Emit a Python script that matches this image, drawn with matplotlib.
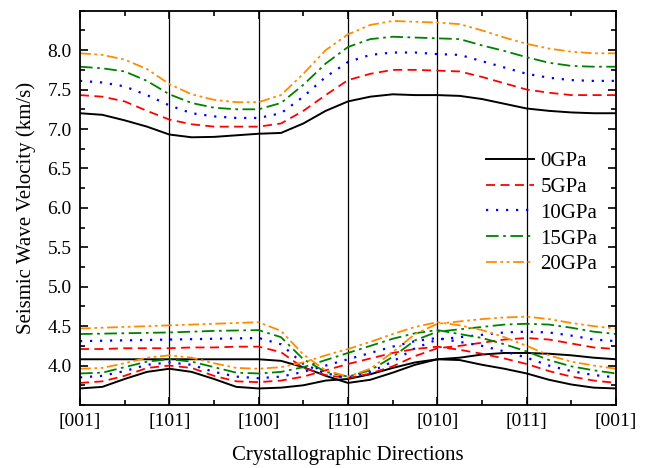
import numpy as np
import matplotlib
matplotlib.use("Agg")
import matplotlib.pyplot as plt
from matplotlib.ticker import MultipleLocator, FormatStrFormatter

plt.rcParams['font.family'] = ['Liberation Serif', 'DejaVu Serif']

# path positions (quarter steps along the direction path)
x = np.arange(25) * 0.25
directions = ['[001]', '[101]', '[100]', '[110]', '[010]', '[011]', '[001]']
pressures = ['0GPa', '5GPa', '10GPa', '15GPa', '20GPa']

# P wave
vp = {
    '0GPa':  [7.20, 7.18, 7.11, 7.03, 6.93, 6.895, 6.90, 6.92, 6.94, 6.95, 7.07, 7.23, 7.35,
              7.41, 7.44, 7.43, 7.43, 7.42, 7.38, 7.32, 7.26, 7.23, 7.21, 7.20, 7.20],
    '5GPa':  [7.43, 7.41, 7.35, 7.23, 7.12, 7.06, 7.03, 7.03, 7.03, 7.07, 7.23, 7.43, 7.62,
              7.70, 7.75, 7.75, 7.74, 7.73, 7.66, 7.58, 7.50, 7.46, 7.43, 7.43, 7.43],
    '10GPa': [7.61, 7.59, 7.54, 7.43, 7.30, 7.20, 7.16, 7.14, 7.14, 7.20, 7.41, 7.66, 7.85,
              7.94, 7.97, 7.97, 7.95, 7.94, 7.86, 7.78, 7.70, 7.65, 7.62, 7.61, 7.61],
    '15GPa': [7.79, 7.77, 7.73, 7.61, 7.44, 7.33, 7.27, 7.25, 7.25, 7.33, 7.56, 7.83, 8.04,
              8.14, 8.17, 8.16, 8.15, 8.14, 8.06, 7.99, 7.91, 7.84, 7.80, 7.79, 7.79],
    '20GPa': [7.96, 7.94, 7.88, 7.76, 7.57, 7.44, 7.37, 7.34, 7.34, 7.43, 7.70, 8.00, 8.20,
              8.32, 8.37, 8.36, 8.35, 8.33, 8.25, 8.16, 8.08, 8.02, 7.98, 7.96, 7.96],
}

# shear wave, branch A
vsa = {
    '0GPa':  [4.08, 4.08, 4.08, 4.08, 4.08, 4.08, 4.08, 4.08, 4.08, 4.06, 3.98, 3.87, 3.78,
              3.82, 3.91, 4.01, 4.08, 4.10, 4.14, 4.16, 4.16, 4.15, 4.13, 4.10, 4.08],
    '5GPa':  [4.21, 4.21, 4.22, 4.22, 4.22, 4.23, 4.23, 4.24, 4.24, 4.17, 3.97, 3.88, 3.84,
              3.90, 3.99, 4.12, 4.22, 4.25, 4.29, 4.33, 4.35, 4.33, 4.28, 4.23, 4.21],
    '10GPa': [4.31, 4.315, 4.32, 4.325, 4.33, 4.335, 4.34, 4.345, 4.35, 4.27, 4.02, 3.90, 3.85,
              3.92, 4.05, 4.22, 4.33, 4.36, 4.39, 4.42, 4.43, 4.42, 4.38, 4.33, 4.31],
    '15GPa': [4.40, 4.405, 4.41, 4.415, 4.42, 4.43, 4.44, 4.445, 4.45, 4.36, 4.08, 3.92, 3.86,
              3.94, 4.11, 4.32, 4.43, 4.46, 4.49, 4.52, 4.53, 4.52, 4.48, 4.43, 4.40],
    '20GPa': [4.47, 4.48, 4.49, 4.50, 4.51, 4.52, 4.53, 4.54, 4.55, 4.44, 4.14, 3.94, 3.86,
              3.96, 4.17, 4.40, 4.53, 4.56, 4.59, 4.61, 4.62, 4.59, 4.54, 4.50, 4.47],
}

# shear wave, branch B
vsb = {
    '0GPa':  [3.71, 3.73, 3.83, 3.92, 3.96, 3.92, 3.83, 3.73, 3.71, 3.72, 3.75, 3.81, 3.83,
              3.89, 3.97, 4.04, 4.08, 4.07, 4.01, 3.96, 3.90, 3.82, 3.76, 3.72, 3.71],
    '5GPa':  [3.78, 3.80, 3.87, 3.97, 4.00, 3.97, 3.87, 3.80, 3.79, 3.81, 3.86, 3.94, 4.02,
              4.09, 4.16, 4.21, 4.24, 4.20, 4.15, 4.09, 4.02, 3.93, 3.86, 3.81, 3.78],
    '10GPa': [3.85, 3.87, 3.93, 4.01, 4.04, 4.01, 3.92, 3.86, 3.84, 3.86, 3.92, 4.00, 4.08,
              4.16, 4.24, 4.31, 4.35, 4.30, 4.25, 4.18, 4.10, 4.00, 3.93, 3.88, 3.85],
    '15GPa': [3.90, 3.91, 3.98, 4.05, 4.08, 4.05, 3.98, 3.91, 3.90, 3.92, 3.98, 4.07, 4.16,
              4.25, 4.34, 4.41, 4.45, 4.40, 4.35, 4.27, 4.18, 4.07, 3.99, 3.94, 3.90],
    '20GPa': [3.96, 3.97, 4.03, 4.10, 4.13, 4.10, 4.03, 3.97, 3.96, 3.98, 4.04, 4.13, 4.21,
              4.30, 4.40, 4.49, 4.55, 4.51, 4.45, 4.36, 4.25, 4.13, 4.05, 4.00, 3.96],
}

styles = {
    '0GPa':  dict(color='black', linestyle='-', lw=1.4),
    '5GPa':  dict(color='#ff0000', linestyle=(0, (5, 3)), lw=1.3),
    '10GPa': dict(color='#0000ff', linestyle=(0, (1, 3.5)), lw=1.6),
    '15GPa': dict(color='#008000', linestyle=(0, (7, 2.5, 1.5, 2.5)), lw=1.3),
    '20GPa': dict(color='#ff8c00', linestyle=(0, (6, 2, 1.5, 2, 1.5, 2)), lw=1.3),
}

fig = plt.figure(figsize=(6.46, 4.68), dpi=100)
ax = fig.add_axes([0.1238, 0.1346, 0.8298, 0.8425])

for p in pressures:
    ax.plot(x, vp[p], label=p, **styles[p])
    ax.plot(x, vsa[p], **styles[p])
    ax.plot(x, vsb[p], **styles[p])

for i in range(1, len(directions) - 1):
    ax.axvline(i, color='black', lw=0.9, zorder=0)

ax.set_xlim(0, 6)
ax.set_ylim(3.5, 8.5)
ax.set_xticks(range(len(directions)))
ax.set_xticklabels(directions)
ax.xaxis.set_minor_locator(MultipleLocator(0.5))
ax.set_yticks(np.arange(4.0, 8.01, 0.5))
ax.yaxis.set_major_formatter(FormatStrFormatter('%.1f'))
ax.yaxis.set_minor_locator(MultipleLocator(0.25))
ax.tick_params(which='both', direction='in', top=True, right=True, labelsize=14, width=1.2)
ax.tick_params(which='major', length=6, pad=6)
ax.tick_params(which='minor', length=3.5)
for s in ax.spines.values():
    s.set_linewidth(1.3)

ax.set_xlabel('Crystallographic Directions', fontsize=15, labelpad=11)
ax.set_ylabel('Seismic Wave Velocity (km/s)', fontsize=15, labelpad=8)

ax.legend(loc='center right', bbox_to_anchor=(1.0, 0.487), frameon=False, fontsize=15,
          handlelength=2.3, labelspacing=0.3, handletextpad=0.3)

fig.savefig('out.png', dpi=100)
